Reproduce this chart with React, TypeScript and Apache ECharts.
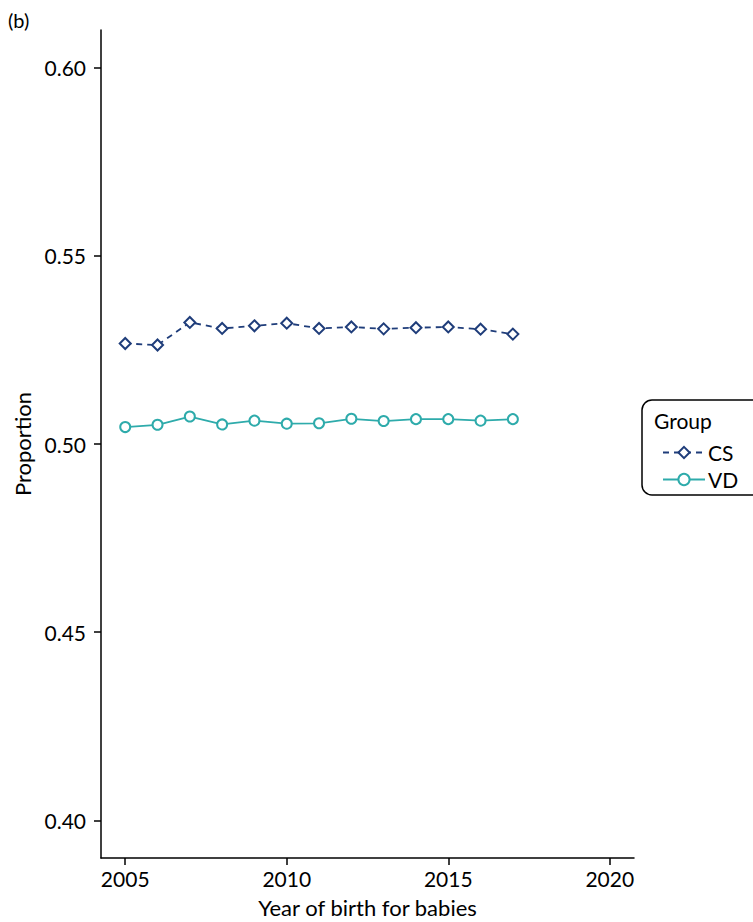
import React, { useEffect, useRef } from "react";
import * as echarts from "echarts";

const years = [2005, 2006, 2007, 2008, 2009, 2010, 2011, 2012, 2013, 2014, 2015, 2016, 2017];
const csValues = [0.5267, 0.5263, 0.5323, 0.5307, 0.5314, 0.5321, 0.5307, 0.5311, 0.5306, 0.5309, 0.5311, 0.5305, 0.5292];
const vdValues = [0.5045, 0.5051, 0.5073, 0.5052, 0.5062, 0.5054, 0.5055, 0.5067, 0.5061, 0.5066, 0.5066, 0.5062, 0.5066];
const xTicks = [2005, 2010, 2015, 2020];
const yTicks = [0.4, 0.45, 0.5, 0.55, 0.6];

const CS_COLOR = "#1f3d7a";
const VD_COLOR = "#2eabab";
const FONT = "Lato";

export default function App() {
  const ref = useRef<HTMLDivElement>(null);
  useEffect(() => {
    if (!ref.current) return;
    const chart = echarts.init(ref.current, null, { renderer: "svg" });
    chart.setOption({
      animation: false,
      textStyle: { fontFamily: FONT },
      grid: { left: 101, right: 119, top: 30, bottom: 64, containLabel: false, outerBoundsMode: "none" },
      xAxis: {
        type: "value",
        min: 2004.25,
        max: 2020.75,
        name: "Year of birth for babies",
        nameLocation: "middle",
        nameGap: 38,
        nameTextStyle: { fontFamily: FONT, fontSize: 22, color: "#000" },
        splitLine: { show: false },
        axisLine: { show: true, lineStyle: { color: "#000", width: 1.5 } },
        axisTick: { show: true, length: 7, lineStyle: { color: "#000", width: 1.5 }, customValues: xTicks },
        axisLabel: { fontFamily: FONT, fontSize: 21, color: "#000", margin: 10, customValues: xTicks, formatter: (v: number) => String(v) },
      },
      yAxis: {
        type: "value",
        min: 0.39,
        max: 0.61,
        name: "Proportion",
        nameLocation: "middle",
        nameGap: 68,
        nameTextStyle: { fontFamily: FONT, fontSize: 22, color: "#000" },
        splitLine: { show: false },
        axisLine: { show: true, lineStyle: { color: "#000", width: 1.5 } },
        axisTick: { show: true, length: 7, lineStyle: { color: "#000", width: 1.5 }, customValues: yTicks },
        axisLabel: { fontFamily: FONT, fontSize: 21, color: "#000", margin: 15, customValues: yTicks, formatter: (v: number) => v.toFixed(2) },
      },
      legend: {
        orient: "vertical",
        left: 657,
        top: 437,
        itemWidth: 42,
        itemHeight: 14,
        itemGap: 6,
        textStyle: { fontFamily: FONT, fontSize: 21, color: "#000", padding: [0, 0, 0, -2] },
        data: ["CS", "VD"],
      },
      graphic: [
        { type: "text", left: 8, top: 10, style: { text: "(b)", font: `20px ${FONT}`, fill: "#000" } },
        {
          type: "rect",
          shape: { x: 642, y: 400, width: 130, height: 95, r: 10 },
          style: { fill: "none", stroke: "#000", lineWidth: 1.5 },
        },
        { type: "text", x: 654, y: 410, style: { text: "Group", font: `21px ${FONT}`, fill: "#000" } },
      ],
      series: [
        {
          name: "CS",
          type: "line",
          data: years.map((y, i) => [y, csValues[i]]),
          symbol: "diamond",
          symbolSize: 11,
          showAllSymbol: true,
          itemStyle: { color: "#fff", borderColor: CS_COLOR, borderWidth: 2 },
          lineStyle: { color: CS_COLOR, width: 1.8, type: [6, 5] },
          color: CS_COLOR,
        },
        {
          name: "VD",
          type: "line",
          data: years.map((y, i) => [y, vdValues[i]]),
          symbol: "circle",
          symbolSize: 10,
          showAllSymbol: true,
          itemStyle: { color: "#fff", borderColor: VD_COLOR, borderWidth: 2 },
          lineStyle: { color: VD_COLOR, width: 1.8 },
          color: VD_COLOR,
        },
      ],
    });
    return () => chart.dispose();
  }, []);
  return <div ref={ref} style={{ width: 753, height: 922, position: "absolute", left: 0, top: 0 }} />;
}
